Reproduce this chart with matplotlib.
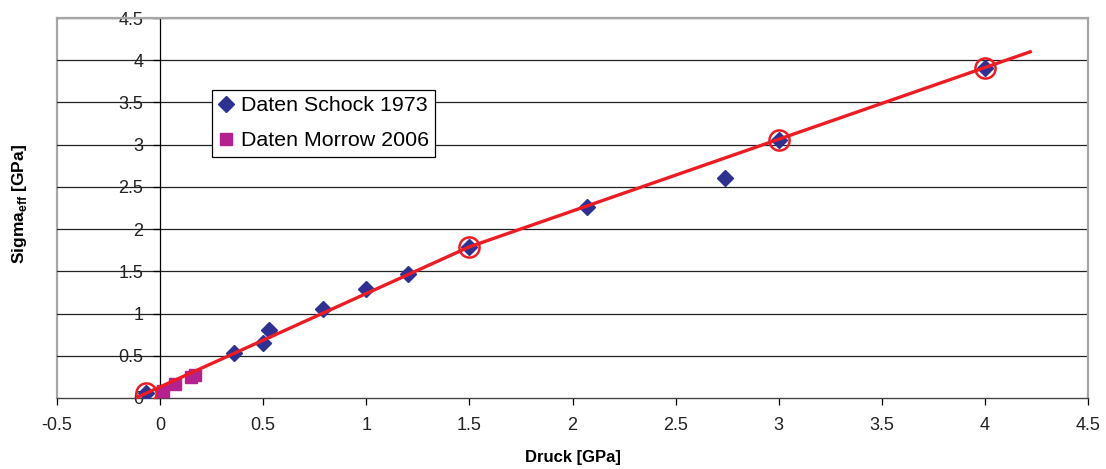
import matplotlib
matplotlib.use("Agg")
import matplotlib.pyplot as plt
from matplotlib.lines import Line2D

plt.rcParams['font.family'] = ['Liberation Sans', 'DejaVu Sans']
plt.rcParams['mathtext.fontset'] = 'custom'
plt.rcParams['mathtext.rm'] = 'Liberation Sans'
plt.rcParams['mathtext.bf'] = 'Liberation Sans:bold'

# Data
schock_x = [-0.07, 0.36, 0.50, 0.53, 0.79, 1.00, 1.20, 1.50, 2.07, 2.74, 3.00, 4.00]
schock_y = [0.06, 0.53, 0.65, 0.80, 1.055, 1.29, 1.465, 1.785, 2.265, 2.61, 3.06, 3.91]
morrow_x = [0.015, 0.07, 0.15, 0.17]
morrow_y = [0.08, 0.16, 0.25, 0.27]
fit_x = [-0.11, 1.50, 4.22]
fit_y = [0.01, 1.79, 4.10]
circ_x = [-0.07, 1.50, 3.00, 4.00]
circ_y = [0.06, 1.785, 3.06, 3.91]
xticks = [-0.5, 0, 0.5, 1, 1.5, 2, 2.5, 3, 3.5, 4, 4.5]
yticks = [0, 0.5, 1, 1.5, 2, 2.5, 3, 3.5, 4, 4.5]

fig = plt.figure(figsize=(11.06, 4.69), dpi=100)
ax = fig.add_axes([57/1106, 1 - 398/469, (1088-57)/1106, (398-18)/469])
ax.set_xlim(-0.5, 4.5)
ax.set_ylim(0, 4.5)

for y in yticks[1:]:
    ax.axhline(y, color='#222222', lw=0.9, zorder=1)

ax.spines['left'].set_position(('data', 0))
ax.spines['left'].set_color('black')
ax.spines['left'].set_linewidth(0.9)
ax.spines['bottom'].set_color('#444444')
ax.spines['bottom'].set_linewidth(1.0)
for s in ['top', 'right']:
    ax.spines[s].set_color('#a6a6a6')
    ax.spines[s].set_linewidth(1.6)
ax.add_line(Line2D([0, 0], [0, 1], transform=ax.transAxes, color='#a6a6a6',
                   lw=1.6, clip_on=False, zorder=0.5))

ax.set_xticks(xticks)
ax.set_xticklabels([f'{t:g}' for t in xticks])
ax.set_yticks(yticks)
ax.set_yticklabels([f'{t:g}' for t in yticks])
ax.tick_params(axis='both', direction='out', width=0.9, labelsize=13,
               colors='black', labelcolor='#222222')
ax.tick_params(axis='x', length=5, pad=9)
ax.tick_params(axis='y', length=5, pad=7)

ax.plot(fit_x, fit_y, color='#ED1C24', lw=2.4, zorder=4)
ax.plot(schock_x, schock_y, linestyle='none', marker='D', markersize=8.6,
        color='#2E3192', label='Daten Schock 1973', zorder=3)
ax.plot(morrow_x, morrow_y, linestyle='none', marker='s', markersize=8.8,
        color='#B5218F', label='Daten Morrow 2006', zorder=3)
ax.plot(circ_x, circ_y, linestyle='none', marker='o', markersize=14.5,
        markerfacecolor='none', markeredgecolor='#ED1C24', markeredgewidth=1.8, zorder=5)

leg = ax.legend(loc='upper left', bbox_to_anchor=((212-57)/1031, (398-90)/380),
                frameon=True, fancybox=False, edgecolor='black', framealpha=1,
                fontsize=15.4, handlelength=0.7, handletextpad=0.35,
                borderpad=0.3, labelspacing=0.75, borderaxespad=0)
leg.get_frame().set_linewidth(0.9)

ax.set_xlabel('Druck [GPa]', fontsize=12, fontweight='bold', labelpad=11)
ax.text(-0.5 - 37/206.2, 2.3, r'Sigma$_{\mathbf{eff}}$ [GPa]', rotation=90,
        fontsize=12.5, fontweight='bold', ha='center', va='center',
        transform=ax.transData)

fig.savefig('out.png', dpi=100)
